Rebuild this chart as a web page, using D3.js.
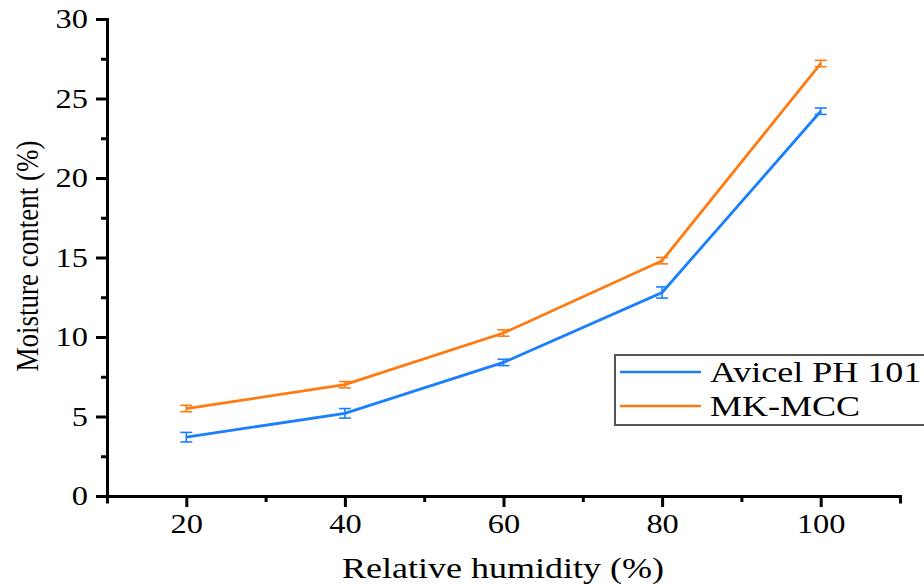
<!DOCTYPE html>
<script src="https://d3js.org/d3.v7.min.js"></script>
<style>
  body { margin: 0; background: #fff; }
  .axis path, .axis line { stroke: #000; stroke-width: 3; }
</style>
<div id="vis"></div>
<script>
  var humidity = [20, 40, 60, 80, 100]
  var avicel = [3.7, 5.2, 8.4, 12.8, 24.2]
  var avicelErr = [0.3, 0.3, 0.2, 0.35, 0.2]
  var mkmcc = [5.5, 7.0, 10.25, 14.8, 27.2]
  var mkmccErr = [0.2, 0.2, 0.2, 0.2, 0.2]
  var seriesNames = ["Avicel PH 101", "MK-MCC"]
  var xTicks = [20, 40, 60, 80, 100]
  var yTicks = [0, 5, 10, 15, 20, 25, 30]

  var blue = "#1a7fff"
  var orange = "#ff7b12"
  var serif = "'Liberation Serif', 'Times New Roman', serif"
  var stretch = "scale(1.2,1)"   // the original picture is a bit wider than tall

  var width = 924, height = 586
  var plot = { left: 107, right: 900, top: 19, bottom: 496 }

  var svg = d3.select("#vis").append("svg")
    .attr("width", width).attr("height", height)
    .style("font-family", serif)

  var x = d3.scaleLinear().domain([10, 110]).range([plot.left, plot.right])
  var y = d3.scaleLinear().domain([0, 30]).range([plot.bottom, plot.top])

  // minor ticks
  svg.append("g").attr("class", "axis")
    .attr("transform", "translate(0," + plot.bottom + ")")
    .call(d3.axisBottom(x).tickValues([10, 30, 50, 70, 90, 110]).tickSize(6).tickFormat(""))
  svg.append("g").attr("class", "axis")
    .attr("transform", "translate(" + plot.left + ",0)")
    .call(d3.axisLeft(y).tickValues([2.5, 7.5, 12.5, 17.5, 22.5, 27.5]).tickSize(6).tickFormat(""))

  // major axes
  var xAxis = svg.append("g").attr("class", "axis")
    .attr("transform", "translate(0," + plot.bottom + ")")
    .call(d3.axisBottom(x).tickValues(xTicks).tickSize(11).tickSizeOuter(0).tickPadding(7))
  var yAxis = svg.append("g").attr("class", "axis")
    .attr("transform", "translate(" + plot.left + ",0)")
    .call(d3.axisLeft(y).tickValues(yTicks).tickSize(11).tickSizeOuter(0).tickPadding(8))
  svg.selectAll(".axis text")
    .style("font-family", serif).style("font-size", "27px").attr("fill", "#000")
  xAxis.selectAll("text").attr("transform", stretch)
  yAxis.selectAll("text").attr("x", 0).attr("transform", "translate(-19,0) " + stretch)
  svg.selectAll(".axis path").attr("stroke-linecap", "square")

  // axis titles
  svg.append("text")
    .attr("transform", "translate(503,578) " + stretch)
    .attr("text-anchor", "middle")
    .style("font-family", serif).style("font-size", "30px")
    .text("Relative humidity (%)")
  svg.append("text")
    .attr("transform", "translate(38,256) " + stretch + " rotate(-90)")
    .attr("text-anchor", "middle")
    .style("font-family", serif).style("font-size", "27px")
    .text("Moisture content (%)")

  function drawSeries(vals, errs, color) {
    var pts = humidity.map(function (h, i) { return { x: h, y: vals[i], e: errs[i] } })
    svg.append("path").datum(pts)
      .attr("fill", "none").attr("stroke", color).attr("stroke-width", 2.8)
      .attr("d", d3.line().x(function (d) { return x(d.x) }).y(function (d) { return y(d.y) }))
    var g = svg.append("g").attr("stroke", color).attr("stroke-width", 1.6)
    pts.forEach(function (d) {
      var cx = x(d.x)
      g.append("line").attr("x1", cx).attr("x2", cx).attr("y1", y(d.y - d.e)).attr("y2", y(d.y + d.e))
      g.append("line").attr("x1", cx - 6).attr("x2", cx + 6).attr("y1", y(d.y - d.e)).attr("y2", y(d.y - d.e))
      g.append("line").attr("x1", cx - 6).attr("x2", cx + 6).attr("y1", y(d.y + d.e)).attr("y2", y(d.y + d.e))
    })
  }
  drawSeries(avicel, avicelErr, blue)
  drawSeries(mkmcc, mkmccErr, orange)

  // legend
  var lg = svg.append("g")
  lg.append("rect").attr("x", 615).attr("y", 355).attr("width", 320).attr("height", 70)
    .attr("fill", "#fff").attr("stroke", "#555").attr("stroke-width", 2)
  var colors = [blue, orange]
  seriesNames.forEach(function (name, i) {
    var ly = 372 + i * 34
    lg.append("line").attr("x1", 620).attr("x2", 701).attr("y1", ly).attr("y2", ly)
      .attr("stroke", colors[i]).attr("stroke-width", 2.5)
    lg.append("text").attr("transform", "translate(710," + (ly + 10) + ") " + stretch)
      .style("font-family", serif).style("font-size", "30px").text(name)
  })
</script>
